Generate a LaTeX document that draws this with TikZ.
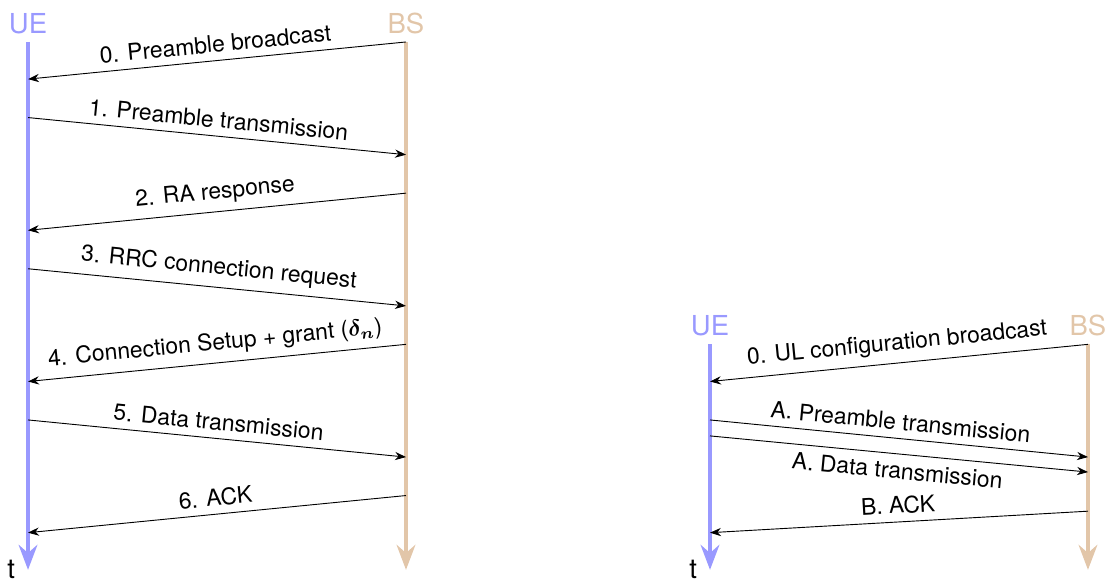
\documentclass[tikz,border=0pt]{standalone}
\usepackage{amsmath}
\usepackage{fontspec}
\setmainfont{TeX Gyre Heros}
\usetikzlibrary{arrows.meta}
\colorlet{uecolor}{blue!40}
\colorlet{bscolor}{brown!45}

\begin{document}
\begin{tikzpicture}[
    lifeline/.style={line width=1.75pt,-{Stealth}},
    msg/.style={-{Stealth}},
    actor/.style={font=\large,above},
    lbl/.style={midway,sloped,above},
    timelbl/.style={left,text=black,font=\large,xshift=-1.5pt}
]
    \useasboundingbox (-0.43,0.644) rectangle (16.557,-8.301);
    % Four-step random access
    \begin{scope}
        \coordinate (l-uetop) at (0,0);
        \coordinate (l-ueend) at (0,-8.1);
        \coordinate (l-bstop) at (5.8,0);
        \coordinate (l-bsend) at (5.8,-8.1);
        \node[actor,uecolor] (l-ue) at (l-uetop) {UE};
        \node[actor,bscolor] (l-bs) at (l-bstop) {BS};
        \draw[lifeline,uecolor] (l-uetop) -- (l-ueend) node[timelbl] (l-t) {t};
        \draw[lifeline,bscolor] (l-bstop) -- (l-bsend);
        \coordinate (l-bs0) at (5.8,0);     \coordinate (l-ue0) at (0,-0.57);
        \coordinate (l-ue1) at (0,-1.16);   \coordinate (l-bs1) at (5.8,-1.73);
        \coordinate (l-bs2) at (5.8,-2.32); \coordinate (l-ue2) at (0,-2.89);
        \coordinate (l-ue3) at (0,-3.48);   \coordinate (l-bs3) at (5.8,-4.05);
        \coordinate (l-bs4) at (5.8,-4.64); \coordinate (l-ue4) at (0,-5.21);
        \coordinate (l-ue5) at (0,-5.80);   \coordinate (l-bs5) at (5.8,-6.37);
        \coordinate (l-bs6) at (5.8,-6.96); \coordinate (l-ue6) at (0,-7.53);
        \draw[msg] (l-bs0) -- node[lbl] (l-m0) {0. Preamble broadcast} (l-ue0);
        \draw[msg] (l-ue1) -- node[lbl] (l-m1) {1. Preamble transmission} (l-bs1);
        \draw[msg] (l-bs2) -- node[lbl] (l-m2) {2. RA response} (l-ue2);
        \draw[msg] (l-ue3) -- node[lbl] (l-m3) {3. RRC connection request} (l-bs3);
        \draw[msg] (l-bs4) -- node[lbl] (l-m4) {4. Connection Setup + grant ({\boldmath$\delta_n$})} (l-ue4);
        \draw[msg] (l-ue5) -- node[lbl] (l-m5) {5. Data transmission} (l-bs5);
        \draw[msg] (l-bs6) -- node[lbl] (l-m6) {6. ACK} (l-ue6);
    \end{scope}
    % Two-step access
    \begin{scope}[xshift=10.465cm]
        \coordinate (r-uetop) at (0,-4.64);
        \coordinate (r-ueend) at (0,-8.1);
        \coordinate (r-bstop) at (5.8,-4.64);
        \coordinate (r-bsend) at (5.8,-8.1);
        \node[actor,uecolor] (r-ue) at (r-uetop) {UE};
        \node[actor,bscolor] (r-bs) at (r-bstop) {BS};
        \draw[lifeline,uecolor] (r-uetop) -- (r-ueend) node[timelbl] (r-t) {t};
        \draw[lifeline,bscolor] (r-bstop) -- (r-bsend);
        \coordinate (r-bs0) at (5.8,-4.64); \coordinate (r-ue0) at (0,-5.21);
        \coordinate (r-ue1) at (0,-5.80);   \coordinate (r-bs1) at (5.8,-6.37);
        \coordinate (r-ue2) at (0,-6.045);  \coordinate (r-bs2) at (5.8,-6.60);
        \coordinate (r-bs3) at (5.8,-7.20); \coordinate (r-ue3) at (0,-7.53);
        \draw[msg] (r-bs0) -- node[lbl] (r-m0) {0. UL configuration broadcast} (r-ue0);
        \draw[msg] (r-ue1) -- node[lbl] (r-m1) {A. Preamble transmission} (r-bs1);
        \draw[msg] (r-ue2) -- node[midway,sloped,below] (r-m2) {A. Data transmission} (r-bs2);
        \draw[msg] (r-bs3) -- node[lbl] (r-m3) {B. ACK} (r-ue3);
    \end{scope}
\end{tikzpicture}
\end{document}
